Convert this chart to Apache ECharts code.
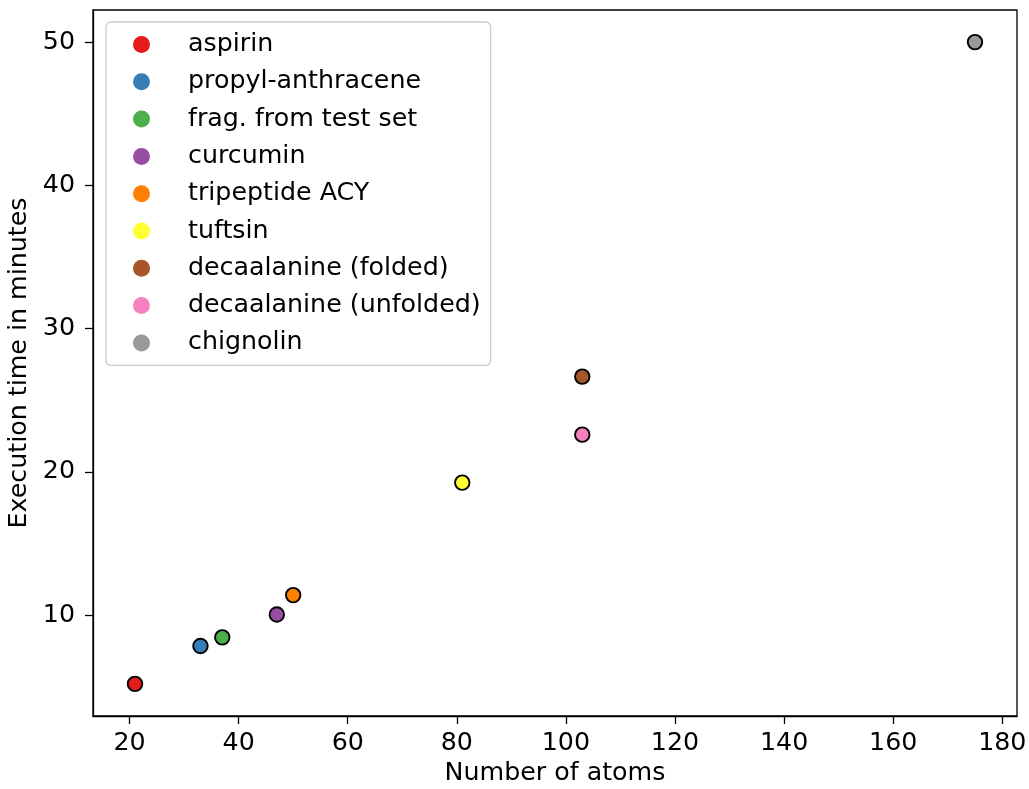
<!DOCTYPE html>
<html>
<head>
<meta charset="utf-8">
<script src="https://cdn.jsdelivr.net/npm/echarts@6/dist/echarts.min.js"></script>
<style>
  html, body { margin: 0; padding: 0; background: #fff; }
  #chart { width: 1029px; height: 789px; }
</style>
</head>
<body>
<div id="chart"></div>
<script>
// Molecules, their atom counts and measured execution times
const molecules = ['aspirin', 'propyl-anthracene', 'frag. from test set', 'curcumin',
  'tripeptide ACY', 'tuftsin', 'decaalanine (folded)', 'decaalanine (unfolded)', 'chignolin'];
const atomCounts = [21, 33, 37, 47, 50, 81, 103, 103, 175];
const minutes = [5.2, 7.85, 8.45, 10.05, 11.4, 19.25, 26.65, 22.6, 50.0];
const palette = ['#e41a1c', '#377eb8', '#4daf4a', '#984ea3', '#ff7f00',
  '#ffff33', '#a65628', '#f781bf', '#999999'];
const xTicks = [20, 40, 60, 80, 100, 120, 140, 160, 180];
const yTicks = [10, 20, 30, 40, 50];

const FONT = 'DejaVu Sans';
const FS = 25.3;

// 5% padding around the data range on both axes
function paddedRange(vals) {
  const lo = Math.min(...vals), hi = Math.max(...vals);
  const pad = (hi - lo) * 0.05;
  return [lo - pad, hi + pad];
}
const [xMin, xMax] = paddedRange(atomCounts);
const [yMin, yMax] = paddedRange(minutes);

const series = molecules.map((name, i) => ({
  name: name,
  type: 'scatter',
  data: [[atomCounts[i], minutes[i]]],
  symbol: 'circle',
  symbolSize: 14.5,
  itemStyle: { color: palette[i], borderColor: '#000', borderWidth: 1.9, opacity: 1 },
  emphasis: { disabled: true }
}));

const chart = echarts.init(document.getElementById('chart'), null, { renderer: 'canvas' });
chart.setOption({
  animation: false,
  backgroundColor: '#fff',
  color: palette,
  grid: {
    left: 93, right: 12, top: 10, bottom: 73,
    outerBoundsMode: 'none',
    containLabel: false,
    show: true, borderColor: '#000', borderWidth: 1.3, backgroundColor: 'transparent'
  },
  legend: {
    orient: 'vertical',
    left: 106, top: 22,
    padding: [10, 10, 10, 27],
    backgroundColor: '#fff',
    borderColor: '#cccccc', borderWidth: 1.3, borderRadius: 5,
    icon: 'circle',
    itemWidth: 17, itemHeight: 17,
    itemGap: 12.3,
    itemStyle: { borderWidth: 0 },
    textStyle: { fontFamily: FONT, fontSize: FS, color: '#000', lineHeight: 22, padding: [0, 0, 0, 33] },
    selectedMode: false,
    data: molecules
  },
  xAxis: {
    type: 'value',
    min: xMin, max: xMax,
    name: 'Number of atoms',
    nameLocation: 'middle',
    nameGap: 45,
    nameTextStyle: { fontFamily: FONT, fontSize: FS, color: '#000' },
    axisLine: { show: true, lineStyle: { color: '#000', width: 1.3 } },
    axisTick: { show: true, length: 8, lineStyle: { color: '#000', width: 1.3 }, customValues: xTicks },
    axisLabel: { fontFamily: FONT, fontSize: FS, color: '#000', margin: 15, customValues: xTicks },
    splitLine: { show: false }
  },
  yAxis: {
    type: 'value',
    min: yMin, max: yMax,
    name: 'Execution time in minutes',
    nameLocation: 'middle',
    nameGap: 61,
    nameTextStyle: { fontFamily: FONT, fontSize: FS, color: '#000' },
    axisLine: { show: true, lineStyle: { color: '#000', width: 1.3 } },
    axisTick: { show: true, length: 8, lineStyle: { color: '#000', width: 1.3 }, customValues: yTicks },
    axisLabel: { fontFamily: FONT, fontSize: FS, color: '#000', margin: 18, customValues: yTicks },
    splitLine: { show: false }
  },
  series: series
});
</script>
</body>
</html>
